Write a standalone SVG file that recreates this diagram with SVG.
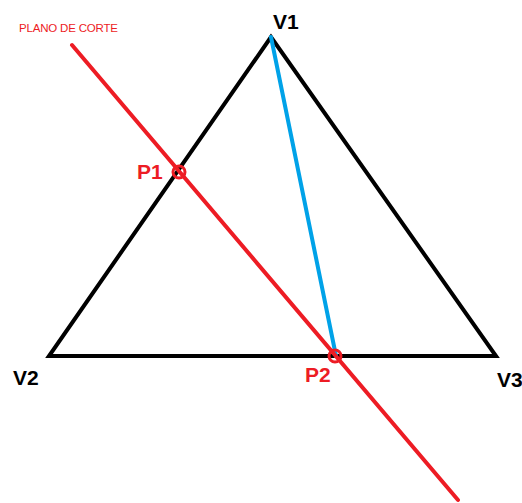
<svg xmlns="http://www.w3.org/2000/svg" width="522" height="503" viewBox="0 0 522 503">
<style>
.lbl{font-family:"Liberation Sans",Arial,sans-serif;font-weight:bold;font-size:21px}
.blk{fill:#000}
.red{fill:#ed1c24}
</style>
<rect width="522" height="503" fill="#fff"/>
<g id="triangle">
<polygon points="271,37 49,356 496,356" fill="none" stroke="#000" stroke-width="4" stroke-linejoin="miter"/>
</g>
<g id="connectors">
<line id="v1-p2" x1="271" y1="37" x2="336" y2="356" stroke="#00a2e8" stroke-width="4" stroke-linecap="round"/>
<line id="plano" x1="72" y1="45" x2="458" y2="500" stroke="#ed1c24" stroke-width="4" stroke-linecap="round"/>
</g>
<g id="p1"><circle cx="179" cy="172" r="6" fill="none" stroke="#ed1c24" stroke-width="3"/><text class="lbl red" x="137" y="179">P1</text></g>
<g id="p2"><circle cx="335" cy="356" r="6" fill="none" stroke="#ed1c24" stroke-width="3"/><text class="lbl red" x="305" y="382">P2</text></g>
<g id="v1"><text class="lbl blk" x="273" y="29">V1</text></g>
<g id="v2"><text class="lbl blk" x="13" y="385">V2</text></g>
<g id="v3"><text class="lbl blk" x="497" y="387">V3</text></g>
<g id="plano-label"><text x="19" y="32" font-family="'Liberation Sans',Arial,sans-serif" font-size="11.5" fill="#ed1c24" textLength="99">PLANO DE CORTE</text></g>
</svg>
